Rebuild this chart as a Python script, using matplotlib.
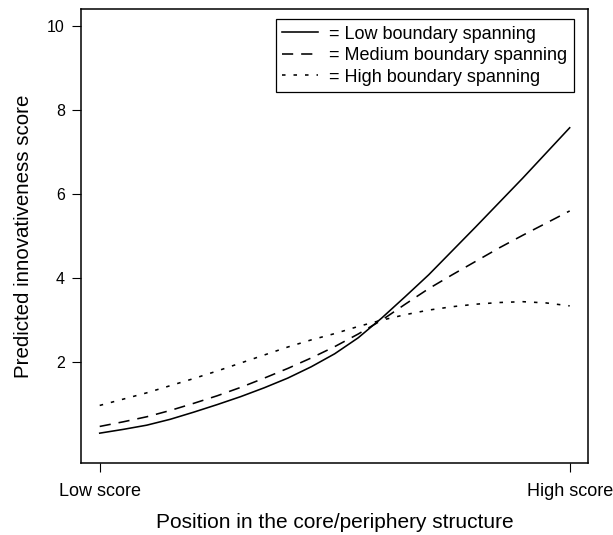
import matplotlib
matplotlib.use("Agg")
import matplotlib.pyplot as plt

plt.rcParams["font.family"] = ["Liberation Sans", "DejaVu Sans"]

# position on the core/periphery axis (0 = low score, 1 = high score)
position = [0.00, 0.05, 0.10, 0.15, 0.20, 0.25, 0.30, 0.35, 0.40, 0.45, 0.50,
            0.55, 0.60, 0.65, 0.70, 0.75, 0.80, 0.85, 0.90, 0.95, 1.00]

# predicted innovativeness for three levels of boundary spanning
low_spanning = [0.31, 0.40, 0.50, 0.64, 0.81, 0.99, 1.18, 1.39, 1.62, 1.89, 2.20,
                2.58, 3.05, 3.56, 4.08, 4.65, 5.22, 5.80, 6.38, 6.98, 7.58]
medium_spanning = [0.47, 0.58, 0.70, 0.85, 1.02, 1.20, 1.40, 1.62, 1.85, 2.10, 2.37,
                   2.67, 3.00, 3.38, 3.75, 4.08, 4.40, 4.72, 5.02, 5.31, 5.60]
high_spanning = [0.97, 1.12, 1.27, 1.44, 1.61, 1.79, 1.98, 2.17, 2.36, 2.53, 2.68,
                 2.85, 3.00, 3.13, 3.24, 3.32, 3.38, 3.42, 3.44, 3.41, 3.34]

labels = ["= Low boundary spanning", "= Medium boundary spanning", "= High boundary spanning"]
x_ticklabels = ["Low score", "High score"]
y_ticks = [2, 4, 6, 8, 10]

fig = plt.figure(figsize=(6.13, 5.35), dpi=100)
ax = fig.add_axes([0.132, 0.1346, 0.828, 0.848])

lw = 1.15
ax.plot(position, low_spanning, color="black", linewidth=lw, label=labels[0])
ax.plot(position, medium_spanning, color="black", linewidth=lw, dashes=(7, 5), label=labels[1])
ax.plot(position, high_spanning, color="black", linewidth=lw, dashes=(2.2, 5), label=labels[2])

# R-style limits: 4% padding on each side
ax.set_xlim(-0.04, 1.04)
ax.set_ylim(-0.4, 10.4)

ax.set_xticks([0, 1])
ax.set_xticklabels(x_ticklabels)
ax.set_yticks(y_ticks)
ax.tick_params(axis="both", direction="out", length=6.5, width=0.8, colors="black")
ax.tick_params(axis="x", pad=8, labelsize=13)
ax.tick_params(axis="y", pad=5, labelsize=11.5)

for sp in ax.spines.values():
    sp.set_linewidth(1.1)
    sp.set_color("black")

ax.set_xlabel("Position in the core/periphery structure", fontsize=15, labelpad=9)
ax.set_ylabel("Predicted innovativeness score", fontsize=14.8, labelpad=10)

leg = ax.legend(loc="upper right", bbox_to_anchor=(0.971, 0.978), fontsize=13,
                handlelength=2.0, handletextpad=0.6, labelspacing=0.25,
                borderpad=0.35, fancybox=False, framealpha=1, borderaxespad=0)
leg.get_frame().set_edgecolor("black")
leg.get_frame().set_linewidth(0.9)

fig.savefig("out.png", dpi=100)
